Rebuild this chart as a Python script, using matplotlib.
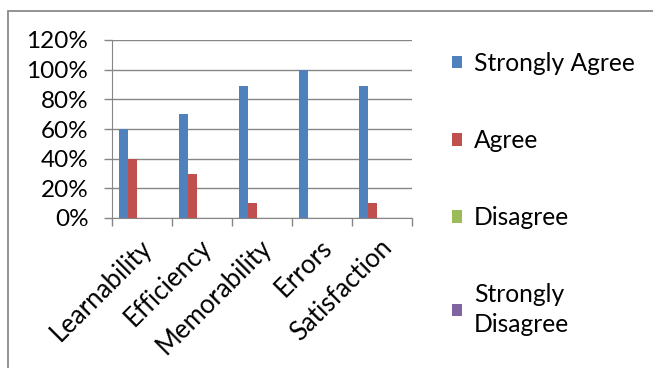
import numpy as np
import matplotlib.pyplot as plt
import matplotlib.transforms as mtransforms
from matplotlib.patches import Rectangle
from matplotlib.ticker import PercentFormatter

plt.rcParams['font.family'] = ['Lato', 'DejaVu Sans']

criteria = ['Learnability', 'Efficiency', 'Memorability', 'Errors', 'Satisfaction']
strongly_agree = [0.60, 0.70, 0.89, 1.00, 0.89]
agree = [0.40, 0.30, 0.10, 0.00, 0.10]
disagree = [0, 0, 0, 0, 0]
strongly_disagree = [0, 0, 0, 0, 0]

series = [('Strongly Agree', strongly_agree, '#4F81BD'),
          ('Agree', agree, '#C0504D'),
          ('Disagree', disagree, '#9BBB59'),
          ('Strongly\nDisagree', strongly_disagree, '#8064A2')]

fig = plt.figure(figsize=(6.53, 3.68), dpi=100)
ax = fig.add_axes([112/653, 1 - 218/368, 300/653, 178/368])

# outer chart frame (runs off the right and bottom edge)
fig.patches.append(Rectangle((8/653, -0.2), 1.2, 1 - 11/368 + 0.2,
                             transform=fig.transFigure, fill=False,
                             edgecolor='#8a8a8a', lw=1.3))

x = np.arange(len(criteria))
w = 0.15
start = x - 0.5 + 0.12
for k, (name, vals, col) in enumerate(series):
    ax.bar(start + k*w, vals, width=w, align='edge', color=col, label=name)

ax.set_xlim(-0.5, len(criteria) - 0.5)
ax.set_ylim(0, 1.2)
ax.set_yticks(np.arange(0, 1.21, 0.2))
ax.yaxis.set_major_formatter(PercentFormatter(1.0, decimals=0))
ax.grid(axis='y', color='#868686', lw=1)
ax.set_axisbelow(True)

ax.set_xticks(x)
ax.set_xticklabels(criteria, rotation=45, ha='right', rotation_mode='anchor')
ax.set_xticks(np.arange(-0.5, len(criteria)), minor=True)
ax.tick_params(axis='x', which='major', length=0, pad=12, labelsize=18.5)
ax.tick_params(axis='x', which='minor', length=5.5, color='#868686', width=1)
ax.tick_params(axis='y', length=6, color='#868686', width=1, pad=11, labelsize=17.5)
shift = mtransforms.ScaledTranslation(-3/100, 0, fig.dpi_scale_trans)
for lab in ax.get_xticklabels():
    lab.set_transform(lab.get_transform() + shift)

for s in ['top', 'right']:
    ax.spines[s].set_visible(False)
for s in ['left', 'bottom']:
    ax.spines[s].set_color('#868686')

leg = ax.legend(loc='upper left', bbox_to_anchor=(452/653, 1 - 52/368),
                bbox_transform=fig.transFigure, frameon=False, fontsize=17.7,
                handlelength=0.4, handleheight=0.4, handletextpad=0.5,
                labelspacing=2.2, borderpad=0, borderaxespad=0)
for t in leg.get_texts():
    t.set_linespacing(1.35)

fig.savefig('out.png', dpi=100)
